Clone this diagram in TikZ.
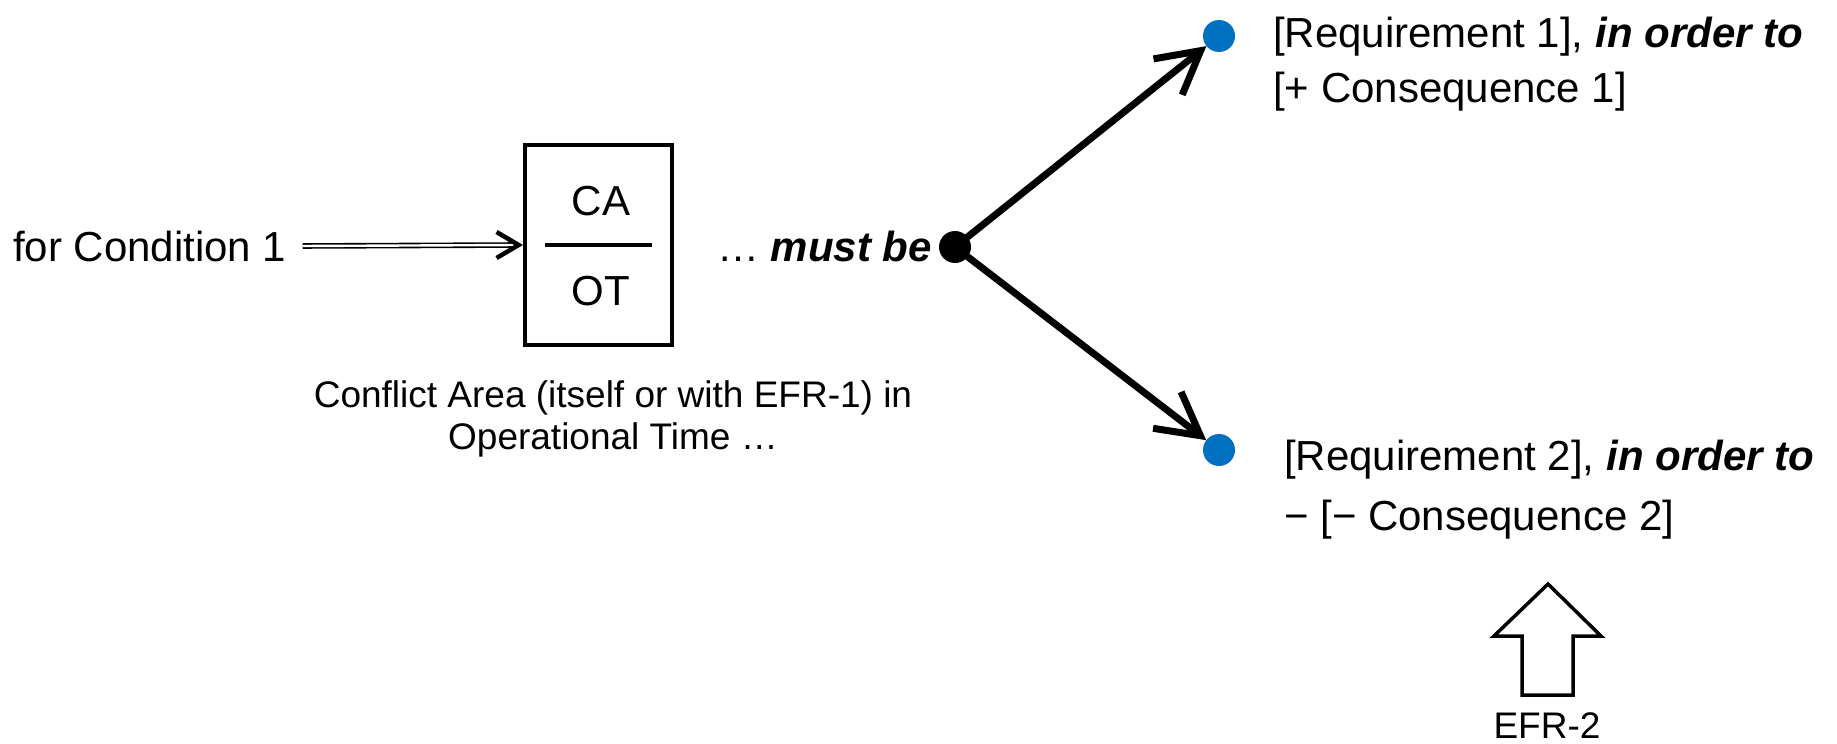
\documentclass[tikz,border=0pt]{standalone}
\usepackage{fontspec}
\setmainfont{Liberation Sans}
\usetikzlibrary{arrows.meta}
\definecolor{dotblue}{RGB}{0,112,192}
\begin{document}
\begin{tikzpicture}[x=1pt,y=-1pt,
  big/.style={font=\fontsize{42}{50}\selectfont, inner sep=0pt},
  small/.style={font=\fontsize{37}{43}\selectfont, inner sep=0pt},
  dotb/.style={circle, fill=dotblue, minimum size=32pt, inner sep=0pt},
  dotk/.style={circle, fill=black, minimum size=32pt, inner sep=0pt},
  thickarr/.style={line width=7pt, line cap=round,
    -{Straight Barb[length=42pt, width=46pt, line width=7pt]}},
  dblline/.style={double, double distance=2.4pt, line width=1.6pt},
  smalltip/.style={line width=4.5pt, -{Straight Barb[length=22pt, width=26pt, line width=4.5pt]}},
  boxstyle/.style={draw, line width=4pt, minimum width=147pt, minimum height=200pt, inner sep=0pt}
]
\useasboundingbox (0,0) rectangle (1837,744);

% condition and box
\node[big, anchor=base west] (cond) at (13,261) {for Condition 1};
\node[boxstyle] (box) at (598.5,245) {};
\node[big] (ca) at (601,201) {CA};
\node[big] (ot) at (601,291) {OT};
\coordinate (ml) at (545,245);
\coordinate (mr) at (652,245);
\draw[line width=4pt] (ml) -- (mr);

% double arrow into the box
\coordinate (tipstart) at ([xshift=-3pt]box.west);
\draw[dblline] ([xshift=16pt]cond.east) -- ([xshift=-5pt]box.west);
\draw[smalltip] (tipstart) -- (box.west);

% caption
\node[small, anchor=base] (cap1) at (613,407) {Conflict Area (itself or with EFR-1) in};
\node[small, anchor=base] (cap2) at (613,449) {Operational Time …};

% must be
\node[big, anchor=base east] (must) at (932,261) {… \textbf{\textit{must be}}};
\node[dotk] (hub) at (955,247) {};

% blue dots
\node[dotb] (b1) at (1219,36) {};
\node[dotb] (b2) at (1219,450) {};
\draw[thickarr] (hub) -- (b1);
\draw[thickarr] (hub) -- (b2);

% requirement texts
\node[big, anchor=base west] (r1a) at (1273,47) {[Requirement 1], \textbf{\textit{in order to}}};
\node[big, anchor=base west] (r1b) at (1273,102) {[+ Consequence 1]};
\node[big, anchor=base west] (r2a) at (1284,470) {[Requirement 2], \textbf{\textit{in order to}}};
\node[big, anchor=base west] (r2b) at (1284,530) {− [− Consequence 2]};

% block arrow
\draw[line width=3.5pt, line join=miter]
  (1548,584) -- (1601,636) -- (1573,636) -- (1573,695) -- (1522,695)
  -- (1522,636) -- (1494,636) -- cycle;
\node[small, anchor=base] (efr) at (1547,738) {EFR-2};
\end{tikzpicture}
\end{document}
